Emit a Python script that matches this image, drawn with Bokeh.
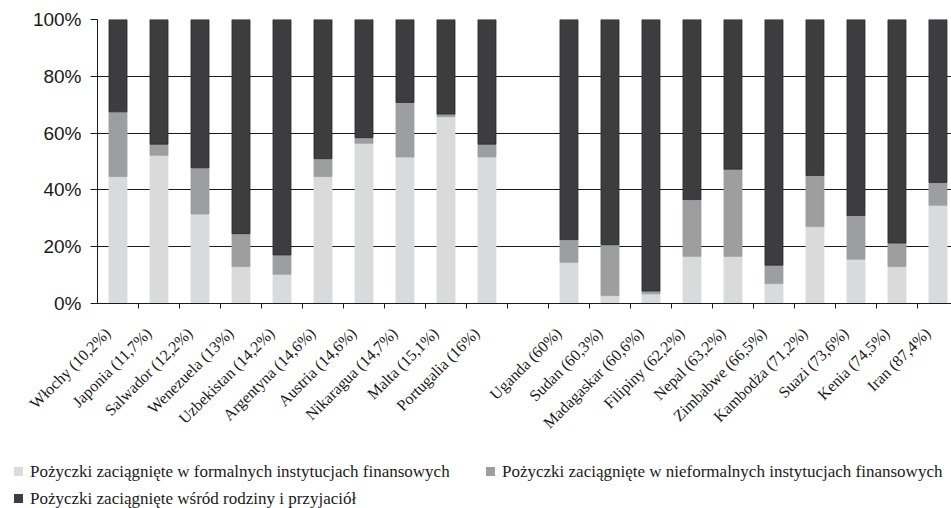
from bokeh.plotting import figure
from bokeh.layouts import column
from bokeh.models import ColumnDataSource, Range1d, FixedTicker, Div
from bokeh.embed import file_html
from bokeh.resources import INLINE

countries = ["Włochy (10,2%)", "Japonia (11,7%)", "Salwador (12,2%)", "Wenezuela (13%)",
             "Uzbekistan (14,2%)", "Argentyna (14,6%)", "Austria (14,6%)", "Nikaragua (14,7%)",
             "Malta (15,1%)", "Portugalia (16%)",
             "Uganda (60%)", "Sudan (60,3%)", "Madagaskar (60,6%)", "Filipiny (62,2%)",
             "Nepal (63,2%)", "Zimbabwe (66,5%)", "Kambodża (71,2%)", "Suazi (73,6%)",
             "Kenia (74,5%)", "Iran (87,4%)"]
slots = [0, 1, 2, 3, 4, 5, 6, 7, 8, 9, 11, 12, 13, 14, 15, 16, 17, 18, 19, 20]

formal = [44.7, 52.2, 31.5, 13.0, 10.3, 44.7, 56.4, 51.6, 65.8, 51.6,
          14.5, 2.8, 3.4, 16.6, 16.6, 7.0, 27.1, 15.6, 13.0, 34.6]
informal = [22.8, 3.9, 16.3, 11.6, 6.8, 6.3, 2.0, 19.2, 0.9, 4.5,
            8.0, 17.9, 1.0, 20.0, 30.7, 6.5, 18.0, 15.4, 8.3, 8.0]
family = [round(100 - a - b, 1) for a, b in zip(formal, informal)]

series_names = ["Pożyczki zaciągnięte w formalnych instytucjach finansowych",
                "Pożyczki zaciągnięte w nieformalnych instytucjach finansowych",
                "Pożyczki zaciągnięte wśród rodziny i przyjaciół"]
colors = ["#D9DADB", "#9D9E9F", "#3D3D3F"]
y_ticks = [0, 20, 40, 60, 80, 100]
y_tick_labels = ["0%", "20%", "40%", "60%", "80%", "100%"]

LABEL_SHIFT = 0.25  # tick labels sit slightly left of the bar centres
bar_x = [s + LABEL_SHIFT for s in slots]
src = ColumnDataSource(dict(x=bar_x, formal=formal, informal=informal, family=family))

p = figure(width=951, height=440, output_backend="svg", toolbar_location=None,
           x_range=Range1d(-LABEL_SHIFT, 20.83 - LABEL_SHIFT), y_range=Range1d(0, 100),
           min_border_left=97, min_border_right=0, min_border_top=19, min_border_bottom=136,
           background_fill_color="white", border_fill_color="white", margin=0)
p.outline_line_color = None

rs = p.vbar_stack(["formal", "informal", "family"], x="x", width=0.44, source=src,
                  fill_color=colors, line_color=[colors[0], colors[1], "#2a2a2b"], line_width=0.8)

p.xgrid.visible = False
p.ygrid.ticker = FixedTicker(ticks=y_ticks)
p.ygrid.grid_line_color = "#1a1a1a"
p.ygrid.grid_line_width = 1

yax = p.yaxis[0]
yax.ticker = FixedTicker(ticks=y_ticks)
yax.major_label_overrides = {t: l for t, l in zip(y_ticks, y_tick_labels)}
yax.major_label_text_font = "Liberation Sans"
yax.major_label_text_font_size = "19px"
yax.major_label_text_color = "#1a1a1a"
yax.major_tick_out = 7
yax.major_tick_in = 0
yax.minor_tick_out = 0
yax.axis_line_color = "#1a1a1a"
yax.major_tick_line_color = "#1a1a1a"
yax.major_label_standoff = 9

xax = p.xaxis[0]
xax.ticker = FixedTicker(ticks=slots, minor_ticks=[s + LABEL_SHIFT + 0.5 for s in range(20)])
xax.major_label_overrides = {s: c for s, c in zip(slots, countries)}
xax.major_label_orientation = 0.785398
xax.major_label_text_font = "Liberation Serif"
xax.major_label_text_font_size = "16px"
xax.major_label_text_color = "#1a1a1a"
xax.major_tick_line_color = None
xax.major_tick_out = 0
xax.major_tick_in = 0
xax.minor_tick_out = 5
xax.minor_tick_in = 0
xax.minor_tick_line_color = "#1a1a1a"
xax.axis_line_color = "#1a1a1a"
xax.major_label_standoff = 22

# legend strip below the chart (HTML text)
legend_rows = [(series_names[0], colors[0], 14, 22), (series_names[1], colors[1], 486, 22),
               (series_names[2], colors[2], 14, 49)]
items_html = "".join(
    f'<div style="position:absolute;left:{x}px;top:{t}px;height:19px;display:flex;'
    f'align-items:center;white-space:nowrap;">'
    f'<span style="display:inline-block;width:9px;height:9px;background:{c};'
    f'margin-right:7px;"></span>{n}</div>'
    for n, c, x, t in legend_rows)
legend_div = Div(text=f'<div style="position:relative;width:951px;height:68px;'
                      f'font-family:\'Liberation Serif\';font-size:17px;color:#1a1a1a;'
                      f'line-height:19px;">{items_html}</div>',
                 width=951, height=68, margin=0)

open("out.html", "w").write(file_html(column(p, legend_div, spacing=0), INLINE))
